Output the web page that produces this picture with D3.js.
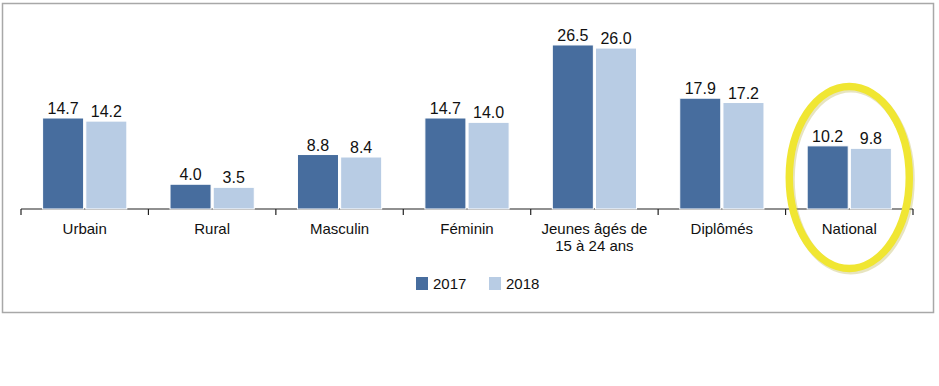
<!DOCTYPE html>
<html>
<head>
<meta charset="utf-8">
<title>Taux de chômage 2017 - 2018</title>
<script src="https://cdn.jsdelivr.net/npm/d3@7"></script>
<style>
  body { margin: 0; background: #fff; }
  svg text { font-family: "Liberation Sans", Arial, sans-serif; fill: #111; }
</style>
</head>
<body>
<div id="chart"></div>
<script>
// data
var categories = ["Urbain", "Rural", "Masculin", "Féminin", "Jeunes âgés de|15 à 24 ans", "Diplômés", "National"];
var years = ["2017", "2018"];
var values2017 = [14.7, 4.0, 8.8, 14.7, 26.5, 17.9, 10.2];
var values2018 = [14.2, 3.5, 8.4, 14.0, 26.0, 17.2, 9.8];
var colors = ["#476d9e", "#b8cce4"];
var highlighted = "National";

var width = 939, height = 386;

var svg = d3.select("#chart").append("svg")
    .attr("width", width)
    .attr("height", height);

// frame
svg.append("rect")
    .attr("x", 2.5).attr("y", 3.5)
    .attr("width", 931).attr("height", 309)
    .attr("fill", "#fff")
    .attr("stroke", "#a8a8a8")
    .attr("stroke-width", 1.5);

var x = d3.scaleBand()
    .domain(categories)
    .range([21, 913]);

var inner = d3.scaleBand()
    .domain(years)
    .range([0, x.bandwidth()])
    .paddingOuter(0.5)
    .paddingInner(0.05);

var y = d3.scaleLinear()
    .domain([0, 30])
    .range([209, 23.3]);

var rows = categories.map(function(c, i) {
  return { cat: c, vals: [values2017[i], values2018[i]] };
});

// axis line with ticks at the category boundaries
var axisG = svg.append("g");
axisG.append("line")
    .attr("x1", x.range()[0]).attr("x2", x.range()[1])
    .attr("y1", y(0)).attr("y2", y(0))
    .attr("stroke", "#222").attr("stroke-width", 1.2);
var bounds = categories.map(function(c) { return x(c); }).concat([x.range()[1]]);
axisG.selectAll("line.tick").data(bounds).enter().append("line")
    .attr("class", "tick")
    .attr("x1", function(d) { return d; }).attr("x2", function(d) { return d; })
    .attr("y1", y(0)).attr("y2", y(0) + 6)
    .attr("stroke", "#222").attr("stroke-width", 1.2);

// bars
var groups = svg.selectAll("g.cat").data(rows).enter().append("g")
    .attr("class", "cat")
    .attr("transform", function(d) { return "translate(" + x(d.cat) + ",0)"; });

groups.selectAll("rect").data(function(d) {
  return d.vals.map(function(v, j) { return { year: years[j], v: v, j: j }; });
}).enter().append("rect")
    .attr("x", function(d) { return inner(d.year); })
    .attr("y", function(d) { return y(d.v); })
    .attr("width", inner.bandwidth())
    .attr("height", function(d) { return y(0) - y(d.v); })
    .attr("fill", function(d) { return colors[d.j]; })
    .attr("stroke", "#fff")
    .attr("stroke-width", 1);

// value labels
groups.selectAll("text.val").data(function(d) {
  return d.vals.map(function(v, j) { return { year: years[j], v: v }; });
}).enter().append("text")
    .attr("class", "val")
    .attr("x", function(d) { return inner(d.year) + inner.bandwidth() / 2; })
    .attr("y", function(d) { return y(d.v) - 4; })
    .attr("text-anchor", "middle")
    .attr("font-size", 16)
    .text(function(d) { return d.v.toFixed(1); });

// category labels
var catLabels = svg.selectAll("text.cat").data(categories).enter().append("text")
    .attr("class", "cat")
    .attr("x", function(d) { return x(d) + x.bandwidth() / 2; })
    .attr("y", 234)
    .attr("text-anchor", "middle")
    .attr("font-size", 15);
catLabels.each(function(d) {
  var t = d3.select(this);
  d.split("|").forEach(function(line, k) {
    t.append("tspan")
        .attr("x", x(d) + x.bandwidth() / 2)
        .attr("dy", k === 0 ? 0 : 17)
        .text(line);
  });
});

// legend
var legend = svg.append("g").attr("transform", "translate(416,277)");
var li = legend.selectAll("g").data(years).enter().append("g")
    .attr("transform", function(d, i) { return "translate(" + (i * 73) + ",0)"; });
li.append("rect")
    .attr("width", 12).attr("height", 13)
    .attr("fill", function(d, i) { return colors[i]; });
li.append("text")
    .attr("x", 17).attr("y", 12)
    .attr("font-size", 15)
    .text(function(d) { return d; });

// yellow highlight ellipse around the national group
var hx = x(highlighted) + x.bandwidth() / 2;
svg.append("ellipse")
    .attr("cx", hx + 1.5).attr("cy", 179.5)
    .attr("rx", 60).attr("ry", 91)
    .attr("fill", "none")
    .attr("stroke", "#b9b34a")
    .attr("stroke-opacity", 0.35)
    .attr("stroke-width", 8);
svg.append("ellipse")
    .attr("cx", hx).attr("cy", 177.5)
    .attr("rx", 60).attr("ry", 91)
    .attr("fill", "none")
    .attr("stroke", "#f0e632")
    .attr("stroke-width", 7.5);
</script>
</body>
</html>
